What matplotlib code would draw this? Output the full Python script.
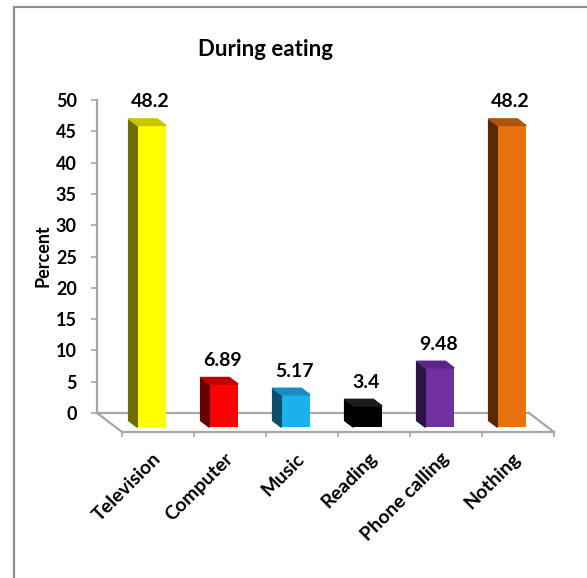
import numpy as np
import matplotlib
matplotlib.use("Agg")
import matplotlib.pyplot as plt
from matplotlib.lines import Line2D

plt.rcParams['font.family'] = ['Lato', 'DejaVu Sans']
plt.rcParams['font.weight'] = 'bold'

# data
categories = ["Television", "Computer", "Music", "Reading", "Phone calling", "Nothing"]
values = [48.2, 6.89, 5.17, 3.4, 9.48, 48.2]
value_labels = ["48.2", "6.89", "5.17", "3.4", "9.48", "48.2"]
front_colors = ["#FFFF00", "#FF0000", "#1CB0EC", "#000000", "#7030A0", "#E8720F"]
side_colors = ["#6E6E00", "#680000", "#0B4E6A", "#000000", "#2C1346", "#5A2805"]
top_colors = ["#C8C800", "#C00000", "#178CBF", "#1C1C1C", "#5A2585", "#AE540C"]
yticks = np.arange(0, 55, 5)

W, H = 587, 578
fig = plt.figure(figsize=(W / 100, H / 100), dpi=100)

# axes placed so data maps linearly onto pixels
px_left, px_right, px_top, px_bottom = 97, 560, 90, 440
ax = fig.add_axes([px_left / W, 1 - px_bottom / H,
                   (px_right - px_left) / W, (px_bottom - px_top) / H])
x_per_px = 1 / 72.0
y_per_px = 1 / 6.26
ax.set_xlim((px_left - 158) * x_per_px, (px_right - 158) * x_per_px)
ax.set_ylim((413 - px_bottom) * y_per_px, (413 - px_top) * y_per_px)

# depth of the floor (back wall -> front edge)
depth_x = 25 * x_per_px
depth_y = -19 * y_per_px
grey = "#A6A6A6"

n = len(categories)
x = np.arange(n)
xb_left = -0.5 - depth_x
xb_right = n - 0.5 - depth_x

# floor outline
ax.fill([xb_left, xb_right, n - 0.5, -0.5], [0, 0, depth_y, depth_y],
        color="white", zorder=0)
ax.plot([xb_left, xb_right], [0, 0], color=grey, lw=1.6, zorder=1)
ax.plot([xb_left, -0.5], [0, depth_y], color=grey, lw=1.6, zorder=1)
ax.plot([xb_right, n - 0.5], [0, depth_y], color=grey, lw=1.6, zorder=1)

# bars (front face, side and top)
f0, f1 = 0.40, 0.75
bw = 0.40
xc = x - depth_x * (1 - f1)
yb1 = depth_y * f1
yb0 = depth_y * f0
dx = depth_x * (f1 - f0)
ax.bar(xc, values, width=bw, bottom=yb1, color=front_colors, zorder=3)
for i, v in enumerate(values):
    xl = xc[i] - bw / 2
    xr = xc[i] + bw / 2
    ax.fill([xl, xl, xl - dx, xl - dx], [yb1, yb1 + v, yb0 + v, yb0],
            color=side_colors[i], zorder=3)
    ax.fill([xl, xr, xr - dx, xl - dx], [yb1 + v, yb1 + v, yb0 + v, yb0 + v],
            color=top_colors[i], zorder=3)
    ax.annotate(value_labels[i], (xc[i] - 0.02, yb1 + v), xytext=(0, 13),
                textcoords="offset points", ha="center", va="baseline",
                fontsize=14, fontweight="bold")

# axes styling
for s in ["top", "right"]:
    ax.spines[s].set_visible(False)
ax.spines["left"].set_bounds(0, 50)
ax.spines["left"].set_color(grey)
ax.spines["left"].set_linewidth(1.6)
ax.spines["bottom"].set_position(("data", depth_y))
ax.spines["bottom"].set_bounds(-0.5, n - 0.5)
ax.spines["bottom"].set_color(grey)
ax.spines["bottom"].set_linewidth(1.6)

ax.set_yticks(yticks)
ax.set_yticklabels([str(t) for t in yticks], fontsize=13, fontweight="bold")
ax.tick_params(axis="y", direction="out", length=4.5, width=1.2, color=grey, pad=10)

ax.set_xticks(x)
ax.set_xticklabels(categories, rotation=45, ha="right", va="center",
                   rotation_mode="anchor", fontsize=14, fontweight="bold")
ax.tick_params(axis="x", which="major", length=0, pad=17)
ax.set_xticks(np.arange(-0.5, n, 1.0), minor=True)
ax.tick_params(axis="x", which="minor", direction="out", length=3.5, width=1.2, color=grey)

ax.set_ylabel("Percent", fontsize=13, fontweight="bold", va="center")
ax.yaxis.set_label_coords((43 - px_left) / (px_right - px_left),
                          (px_bottom - 256) / (px_bottom - px_top))
ax.patch.set_visible(False)

fig.text(265 / W, 1 - 49 / H, "During eating", ha="center", va="center",
         fontsize=16, fontweight="bold")

# outer frame (left and top edges)
fig.add_artist(Line2D([14 / W, 14 / W], [0, 1 - 7 / H], color="#8C8C8C", lw=1.5))
fig.add_artist(Line2D([14 / W, 1], [1 - 7 / H, 1 - 7 / H], color="#8C8C8C", lw=1.5))

fig.savefig("out.png", dpi=100)
